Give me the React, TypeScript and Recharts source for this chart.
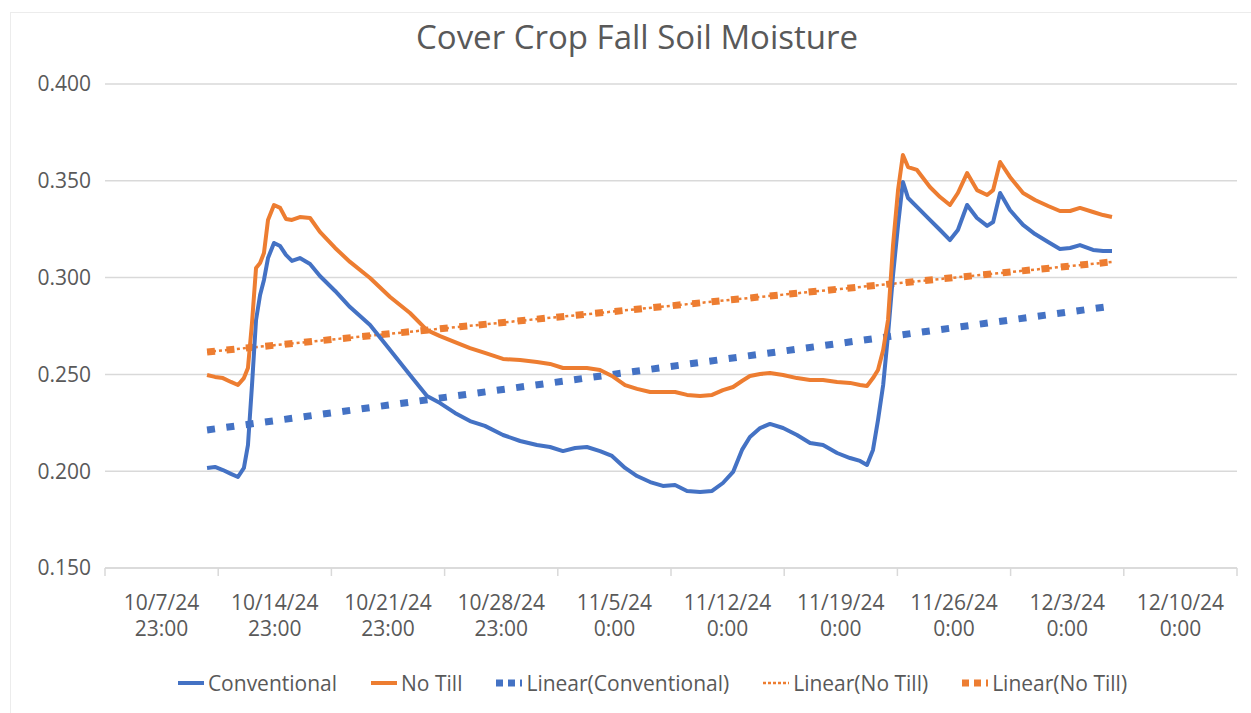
import React from "react";
import {
  LineChart,
  Line,
  XAxis,
  YAxis,
  CartesianGrid,
  Legend,
} from "recharts";

// days since 10/7/24 23:00
const days = [
  6.31, 6.8, 7.29, 7.79, 8.22, 8.59, 8.84, 9.09, 9.34, 9.59, 9.83, 10.08,
  10.45, 10.83, 11.19, 11.56, 12.05, 12.68, 13.29, 14.23, 15.15, 16.39, 17.63,
  18.86, 19.91, 20.72, 21.64, 22.57, 23.49, 24.61, 25.67, 26.71, 27.52, 28.32,
  29.07, 29.8, 30.61, 31.35, 32.16, 32.9, 33.71, 34.5, 35.25, 35.99, 36.8,
  37.54, 38.21, 38.84, 39.39, 39.88, 40.51, 41.12, 41.93, 42.79, 43.6, 44.4,
  45.27, 46.07, 46.69, 47.12, 47.49, 47.8, 48.12, 48.42, 48.73, 49.04, 49.34,
  49.66, 50.21, 51.01, 51.64, 52.25, 52.74, 53.31, 53.92, 54.55, 54.92, 55.35,
  55.96, 56.77, 57.51, 58.32, 59.05, 59.68, 60.29, 61.1, 61.72, 62.27,
];

const conventional = [
  0.2017, 0.2022, 0.2006, 0.1986, 0.197, 0.2017, 0.2135, 0.2445, 0.2781,
  0.291, 0.2988, 0.3101, 0.3179, 0.3163, 0.3117, 0.3086, 0.3101, 0.307,
  0.3008, 0.2931, 0.2848, 0.2755, 0.2626, 0.2497, 0.2389, 0.2352, 0.2301,
  0.2259, 0.2234, 0.2187, 0.2156, 0.2135, 0.2125, 0.2104, 0.212, 0.2125,
  0.2104, 0.2079, 0.2017, 0.1975, 0.1944, 0.1924, 0.1929, 0.1898, 0.1893,
  0.1898, 0.1939, 0.1996, 0.211, 0.2177, 0.2223, 0.2244, 0.2223, 0.2187,
  0.2146, 0.2135, 0.2094, 0.2068, 0.2053, 0.2032, 0.211, 0.2264, 0.2445,
  0.2704, 0.3013, 0.3272, 0.3494, 0.3411, 0.3365, 0.3298, 0.3246, 0.3194,
  0.3246, 0.3375, 0.3308, 0.3267, 0.3287, 0.3437, 0.3349, 0.3272, 0.3225,
  0.3184, 0.3148, 0.3153, 0.3168, 0.3143, 0.3137, 0.3137,
];

const noTill = [
  0.2497, 0.2487, 0.2481, 0.2461, 0.2445, 0.2481, 0.2533, 0.2766, 0.305,
  0.3075, 0.3127, 0.3298, 0.3375, 0.336, 0.3303, 0.3298, 0.3313, 0.3308,
  0.3236, 0.3153, 0.3081, 0.2998, 0.29, 0.2817, 0.2729, 0.2698, 0.2667,
  0.2636, 0.2611, 0.258, 0.2574, 0.2564, 0.2554, 0.2533, 0.2533, 0.2533,
  0.2523, 0.2492, 0.2445, 0.2425, 0.2409, 0.2409, 0.2409, 0.2394, 0.2388,
  0.2394, 0.2419, 0.2435, 0.2466, 0.2492, 0.2502, 0.2507, 0.2497, 0.2481,
  0.2471, 0.2471, 0.2461, 0.2456, 0.2445, 0.244, 0.2481, 0.2523, 0.2626,
  0.2781, 0.3168, 0.3452, 0.3633, 0.3571, 0.3556, 0.3468, 0.3416, 0.3375,
  0.3437, 0.354, 0.3452, 0.3427, 0.3452, 0.3597, 0.352, 0.3437, 0.3401,
  0.337, 0.3344, 0.3344, 0.336, 0.3339, 0.3323, 0.3313,
];

// trend line ends (first and last reading)
const conventionalTrend = [0.2213, 0.2853];
const noTillTrend = [0.2616, 0.3081];

const dateLabels = [
  "10/7/24", "10/14/24", "10/21/24", "10/28/24", "11/5/24",
  "11/12/24", "11/19/24", "11/26/24", "12/3/24", "12/10/24",
];
const timeLabels = [
  "23:00", "23:00", "23:00", "23:00", "0:00",
  "0:00", "0:00", "0:00", "0:00", "0:00",
];
const xTicks = [0, 7, 14, 21, 28, 35, 42, 49, 56, 63, 70];
const yTicks = [0.15, 0.2, 0.25, 0.3, 0.35, 0.4];

const BLUE = "#4472C4";
const ORANGE = "#ED7D31";
const TEXT = "#595959";
const GRID = "#d9d9d9";
const FONT = "'Open Sans', sans-serif";

const WIDTH = 1251;
const HEIGHT = 713;
const MARGIN = { top: 84, right: 14, bottom: 0, left: 0 };
const Y_AXIS_WIDTH = 105;
const HALF_STEP = (WIDTH - MARGIN.right - Y_AXIS_WIDTH) / 20;

const last = days.length - 1;
const data = days.map((day, i) => ({
  day,
  conventional: conventional[i],
  noTill: noTill[i],
  conventionalTrend:
    i === 0 ? conventionalTrend[0] : i === last ? conventionalTrend[1] : null,
  noTillTrend: i === 0 ? noTillTrend[0] : i === last ? noTillTrend[1] : null,
}));

function DateTick({ x, payload }: any) {
  const idx = Math.round(payload.value / 7);
  if (idx >= dateLabels.length) return null;
  return (
    <text
      x={x + HALF_STEP}
      textAnchor="middle"
      fill={TEXT}
      fontSize={21}
      fontFamily={FONT}
    >
      <tspan x={x + HALF_STEP} y={610}>
        {dateLabels[idx]}
      </tspan>
      <tspan x={x + HALF_STEP} y={636}>
        {timeLabels[idx]}
      </tspan>
    </text>
  );
}

const legendItems = [
  { label: "Conventional", color: BLUE, width: 4, dash: undefined },
  { label: "No Till", color: ORANGE, width: 4, dash: undefined },
  { label: "Linear(Conventional)", color: BLUE, width: 7, dash: "7 5" },
  { label: "Linear(No Till)", color: ORANGE, width: 2.5, dash: "3 2" },
  { label: "Linear(No Till)", color: ORANGE, width: 7, dash: "7 5" },
];

function ChartLegend() {
  return (
    <div
      style={{
        display: "flex",
        justifyContent: "center",
        alignItems: "center",
        boxSizing: "border-box",
        paddingLeft: 68,
        paddingBottom: 10,
        height: 50,
        fontFamily: FONT,
        fontSize: 21,
        color: TEXT,
      }}
    >
      {legendItems.map((item, i) => (
        <div
          key={i}
          style={{ display: "flex", alignItems: "center", margin: "0 17px" }}
        >
          <svg width={26} height={10} style={{ marginRight: 4 }}>
            <line
              x1={0}
              y1={5}
              x2={26}
              y2={5}
              stroke={item.color}
              strokeWidth={item.width}
              strokeDasharray={item.dash}
            />
          </svg>
          <span>{item.label}</span>
        </div>
      ))}
    </div>
  );
}

export default function App() {
  return (
    <div
      style={{
        position: "absolute",
        left: 0,
        top: 0,
        width: WIDTH,
        height: HEIGHT,
        overflow: "hidden",
        background: "#fff",
      }}
    >
      <div
        style={{
          position: "absolute",
          left: 10,
          top: 12,
          width: 1300,
          height: 800,
          borderLeft: "1.5px solid #ececec",
          borderTop: "1.5px solid #ececec",
        }}
      />
      <div
        style={{
          position: "absolute",
          left: 637,
          top: 14,
          transform: "translateX(-50%)",
          whiteSpace: "nowrap",
          fontFamily: FONT,
          fontSize: 33,
          color: TEXT,
        }}
      >
        Cover Crop Fall Soil Moisture
      </div>
      <LineChart width={WIDTH} height={HEIGHT} data={data} margin={MARGIN}>
        <CartesianGrid vertical={false} stroke={GRID} strokeWidth={1.5} />
        <XAxis
          type="number"
          dataKey="day"
          domain={[0, 70]}
          ticks={xTicks}
          interval={0}
          height={95}
          axisLine={{ stroke: GRID, strokeWidth: 1.5 }}
          tickLine={{ stroke: GRID, strokeWidth: 1.5 }}
          tickSize={8}
          tick={<DateTick />}
        />
        <YAxis
          domain={[0.15, 0.4]}
          ticks={yTicks}
          width={Y_AXIS_WIDTH}
          axisLine={false}
          tickLine={false}
          tickMargin={8}
          tickFormatter={(v: number) => v.toFixed(3)}
          tick={{ fill: TEXT, fontSize: 21, fontFamily: FONT }}
        />
        <Legend verticalAlign="bottom" content={<ChartLegend />} />
        <Line
          dataKey="conventionalTrend"
          name="Linear(Conventional)"
          stroke={BLUE}
          strokeWidth={7}
          strokeDasharray="8 11.5"
          dot={false}
          connectNulls
          isAnimationActive={false}
        />
        <Line
          dataKey="noTillTrend"
          name="Linear(No Till)"
          stroke={ORANGE}
          strokeWidth={2.5}
          strokeDasharray="3 3"
          dot={false}
          connectNulls
          isAnimationActive={false}
        />
        <Line
          dataKey="noTillTrend"
          name="Linear(No Till) "
          stroke={ORANGE}
          strokeWidth={7}
          strokeDasharray="8 11.5"
          dot={false}
          connectNulls
          isAnimationActive={false}
        />
        <Line
          dataKey="conventional"
          name="Conventional"
          stroke={BLUE}
          strokeWidth={4}
          strokeLinejoin="round"
          dot={false}
          isAnimationActive={false}
        />
        <Line
          dataKey="noTill"
          name="No Till"
          stroke={ORANGE}
          strokeWidth={4}
          strokeLinejoin="round"
          dot={false}
          isAnimationActive={false}
        />
      </LineChart>
    </div>
  );
}
